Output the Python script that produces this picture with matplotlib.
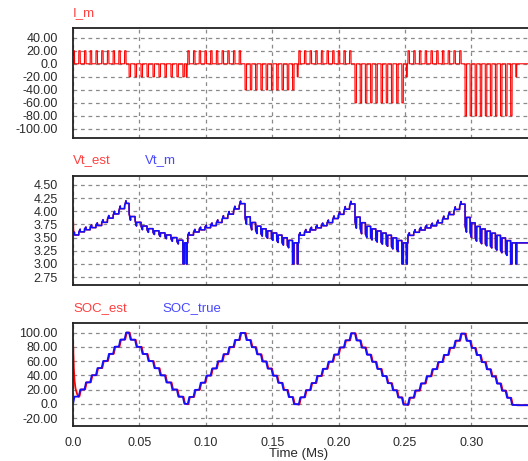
import numpy as np
import matplotlib
matplotlib.use("Agg")
import matplotlib.pyplot as plt
from matplotlib.ticker import FixedLocator, FixedFormatter

# ---------------- data (time in Ms) ----------------
seg_start = [0.0, 0.0422, 0.0864, 0.1295, 0.1700, 0.2123, 0.2522, 0.2952]
seg_end = [0.0399, 0.0838, 0.1262, 0.1664, 0.2093, 0.2487, 0.2922, 0.3306]
seg_current = [20, -20, 20, -40, 20, -60, 20, -80]
pulses_per_seg = [10, 10, 10, 10, 10, 10, 10, 10]
tail_time = [None, 0.0852, None, 0.1688, None, 0.2510, None, 0.3334]
tail_current = -20
pulse_width = 0.0011
tail_width = 0.0007
soc_step = 10.0
soc_tail_step = -0.5

# rest terminal voltage vs SOC, charge and discharge branches
soc_grid = [0, 10, 20, 30, 40, 50, 60, 70, 80, 90, 100]
v_charge = [3.50, 3.55, 3.61, 3.65, 3.69, 3.73, 3.79, 3.87, 3.95, 4.05, 4.15]
v_discharge = [3.40, 3.45, 3.50, 3.55, 3.59, 3.63, 3.67, 3.72, 3.79, 3.90, 4.03]
r_charge = 0.0025
r_discharge = 0.0035
v_cutoff = 3.0

# initial estimator transients
est_t = [0.0, 0.0004, 0.001, 0.0018, 0.003, 0.004]
soc_est_extra = [90, 60, 30, 12, 4, 0]
vt_est_t = [0.0, 0.0003, 0.0008]
vt_est_extra = [0.50, 0.08, 0.0]
soc_est_lag = 0.0005

i_ticks = [40, 20, 0, -20, -40, -60, -80, -100]
i_labels = ["40.00", "20.00", "0.0", "-20.00", "-40.00", "-60.00", "-80.00", "-100.00"]
v_ticks = [4.50, 4.25, 4.00, 3.75, 3.50, 3.25, 3.00, 2.75]
v_labels = ["4.50", "4.25", "4.00", "3.75", "3.50", "3.25", "3.00", "2.75"]
s_ticks = [100, 80, 60, 40, 20, 0, -20]
s_labels = ["100.00", "80.00", "60.00", "40.00", "20.00", "0.0", "-20.00"]
x_ticks = [0.0, 0.05, 0.10, 0.15, 0.20, 0.25, 0.30, 0.35]
x_labels = ["0.0", "0.05", "0.10", "0.15", "0.20", "0.25", "0.30", "0.35"]

# ---------------- build waveforms ----------------
W, H = 528, 461
x_right_px = 530
px_per_ms = 66.4 / 0.05
xmax = (x_right_px - 73) / px_per_ms

t = np.arange(0.0, xmax + 1e-4, 4e-6)
pulses = []  # (on, off, current, dsoc, cutoff)
for k in range(len(seg_start)):
    s, e, cur, n = seg_start[k], seg_end[k], seg_current[k], pulses_per_seg[k]
    p = (e - s - pulse_width) / (n - 1)
    for i in range(n):
        on = s + i * p
        cutoff = cur < 0 and i == n - 1
        pulses.append((on, on + pulse_width, cur, soc_step * np.sign(cur), cutoff))
    if tail_time[k] is not None:
        pulses.append((tail_time[k], tail_time[k] + tail_width, tail_current, soc_tail_step, True))

I = np.zeros_like(t)
soc = np.zeros_like(t)
vspike = np.zeros_like(t)
cut = np.zeros(t.shape, bool)
for on, off, cur, ds, co in pulses:
    m = (t >= on) & (t < off)
    I[m] = cur
    soc += np.clip((t - on) / (off - on), 0, 1) * ds
    vspike[m] = cur * (r_charge if cur > 0 else r_discharge)
    if co:
        cut[m] = True

mode = np.ones_like(t)
for k in range(len(seg_start)):
    mode[t >= seg_start[k]] = np.sign(seg_current[k])
v_rest = np.where(mode > 0, np.interp(soc, soc_grid, v_charge), np.interp(soc, soc_grid, v_discharge))
vt_m = np.maximum(v_rest + vspike, v_cutoff)
vt_m[cut] = v_cutoff
vt_est = vt_m + np.interp(t, vt_est_t, vt_est_extra)

soc_true = soc
soc_est = np.interp(t - soc_est_lag, t, soc_true) + np.interp(t, est_t, soc_est_extra)

# ---------------- draw ----------------
plt.rcParams['font.family'] = ['Liberation Sans', 'DejaVu Sans']
fig = plt.figure(figsize=(W / 100, H / 100), dpi=100)
fig.patch.set_facecolor('white')

def rect(left, top, right, bottom):
    return [left / W, 1 - bottom / H, (right - left) / W, (bottom - top) / H]

RED = '#ff0000'
BLUE = '#1010ff'
TXT_RED = '#ff4040'
TXT_BLUE = '#4848ff'

def style(ax, yt, yl, ylim, show_x):
    ax.set_xlim(0, xmax)
    ax.set_ylim(*ylim)
    ax.yaxis.set_major_locator(FixedLocator(yt))
    ax.yaxis.set_major_formatter(FixedFormatter(yl))
    ax.xaxis.set_major_locator(FixedLocator(x_ticks))
    if show_x:
        ax.xaxis.set_major_formatter(FixedFormatter(x_labels))
    else:
        ax.set_xticklabels([])
    ax.tick_params(axis='both', length=0, labelsize=9, labelcolor='#2a2a2a')
    ax.tick_params(axis='y', pad=11)
    ax.tick_params(axis='x', pad=8)
    ax.grid(True, color='#8a8a8a', linestyle=(0, (3, 3)), linewidth=0.9)
    for sp in ax.spines.values():
        sp.set_color('#222222')
        sp.set_linewidth(1.3)
    ax.set_axisbelow(True)

ax1 = fig.add_axes(rect(73, 28, x_right_px, 138))
ax1.plot(t, I, color=RED, lw=0.8)
style(ax1, i_ticks, i_labels, (-114, 55), False)

ax2 = fig.add_axes(rect(73, 176, x_right_px, 285))
ax2.plot(t, vt_est, color=RED, lw=1.1)
ax2.plot(t, vt_m, color=BLUE, lw=1.1)
style(ax2, v_ticks, v_labels, (2.60, 4.67), False)

ax3 = fig.add_axes(rect(73, 323, x_right_px, 426))
ax3.plot(t, soc_est, color=RED, lw=1.3)
ax3.plot(t, soc_true, color=BLUE, lw=1.3)
style(ax3, s_ticks, s_labels, (-31.2, 113.4), True)

def ftext(x, y, s, color, **kw):
    fig.text(x / W, 1 - y / H, s, color=color, fontsize=9.5, va='center', **kw)

ftext(73, 13, "I_m", TXT_RED, ha='left')
ftext(73, 160, "Vt_est", TXT_RED, ha='left')
ftext(145, 160, "Vt_m", TXT_BLUE, ha='left')
ftext(73, 308, "SOC_est", TXT_RED, ha='left')
ftext(162, 308, "SOC_true", TXT_BLUE, ha='left')
ftext(299, 454, "Time (Ms)", '#2a2a2a', ha='center')

fig.savefig('out.png', dpi=100, facecolor='white')
